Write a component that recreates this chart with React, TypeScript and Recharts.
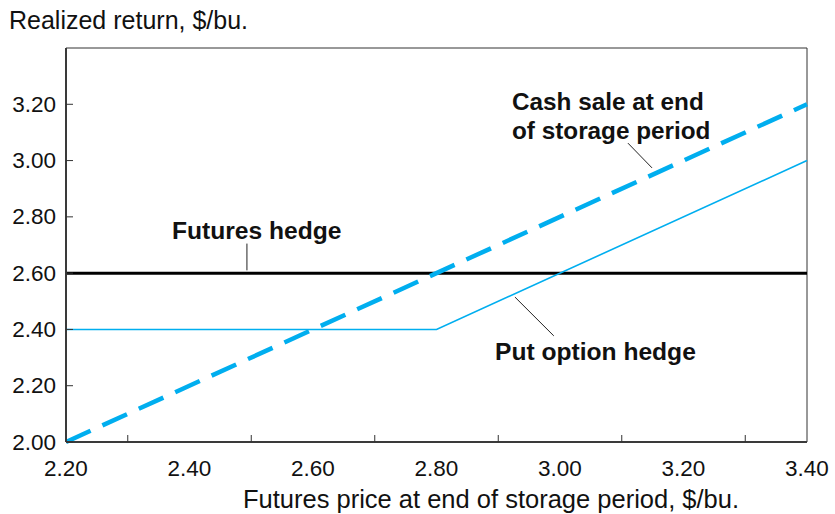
import { LineChart, Line, XAxis, YAxis, ReferenceLine } from "recharts";

// futures price at end of storage ($/bu.)
const prices = [2.2, 2.8, 3.4];
// realized return by strategy ($/bu.)
const cashSale = [2.0, 2.6, 3.2];
const futuresHedge = [2.6, 2.6, 2.6];
const putHedge = [2.4, 2.4, 3.0];

const xTicks = [2.2, 2.3, 2.4, 2.5, 2.6, 2.7, 2.8, 2.9, 3.0, 3.1, 3.2, 3.3, 3.4];
const yTicks = [2.0, 2.2, 2.4, 2.6, 2.8, 3.0, 3.2];

const data = prices.map((p, i) => ({
  price: p,
  cash: cashSale[i],
  futures: futuresHedge[i],
  put: putHedge[i],
}));

const BLUE = "#00aeef";
const FONT = "'Liberation Sans', Arial, sans-serif";

// labels at even tenths, short inward tick marks at odd tenths
const XTick = (props: any) => {
  const { x, y, payload } = props;
  const major = Math.round(payload.value * 10) % 2 === 0;
  if (!major) {
    return <line x1={x} x2={x} y1={y} y2={y - 7} stroke="#333" strokeWidth={1} />;
  }
  return (
    <text x={x} y={y + 26} textAnchor="middle" dominantBaseline="central" fontSize={22.5} fontFamily={FONT} fill="#111">
      {payload.value.toFixed(2)}
    </text>
  );
};

const YTick = (props: any) => {
  const { x, y, payload } = props;
  return (
    <g>
      <line x1={x} x2={x + 7} y1={y} y2={y} stroke="#333" strokeWidth={1} />
      <text x={x - 10} y={y} textAnchor="end" dominantBaseline="central" fontSize={22.5} fontFamily={FONT} fill="#111">
        {payload.value.toFixed(2)}
      </text>
    </g>
  );
};

function Txt({ x, y, size, bold, children, center }: any) {
  return (
    <div
      style={{
        position: "absolute",
        left: x,
        top: y,
        transform: center ? "translate(-50%, -50%)" : "translateY(-50%)",
        fontSize: size,
        lineHeight: 1,
        fontWeight: bold ? "bold" : "normal",
        fontFamily: FONT,
        color: "#111",
        whiteSpace: "nowrap",
      }}
    >
      {children}
    </div>
  );
}

export default function App() {
  return (
    <div style={{ position: "absolute", left: 0, top: 0, width: 835, height: 514, background: "#fff" }}>
      <LineChart width={835} height={514} data={data} margin={{ top: 48, right: 28, bottom: 42, left: 16 }}>
        <XAxis
          dataKey="price"
          type="number"
          domain={[2.2, 3.4]}
          ticks={xTicks}
          interval={0}
          tickSize={0}
          tickMargin={0}
          tickLine={false}
          height={30}
          axisLine={{ stroke: "#3a3a3a", strokeWidth: 2 }}
          tick={<XTick />}
        />
        <YAxis
          type="number"
          domain={[2.0, 3.4]}
          ticks={yTicks}
          interval={0}
          tickSize={0}
          tickMargin={0}
          tickLine={false}
          width={50}
          axisLine={{ stroke: "#3a3a3a", strokeWidth: 2 }}
          tick={<YTick />}
        />
        {/* plot frame */}
        <ReferenceLine y={3.4} stroke="#333" strokeWidth={1} ifOverflow="visible" />
        <ReferenceLine x={3.4} stroke="#333" strokeWidth={1} ifOverflow="visible" />
        {/* leader lines */}
        <ReferenceLine segment={[{ x: 2.493, y: 2.61 }, { x: 2.493, y: 2.705 }]} stroke="#222" strokeWidth={1} />
        <ReferenceLine segment={[{ x: 3.11, y: 3.062 }, { x: 3.149, y: 2.974 }]} stroke="#222" strokeWidth={1} />
        <ReferenceLine segment={[{ x: 2.927, y: 2.515 }, { x: 2.99, y: 2.377 }]} stroke="#222" strokeWidth={1} />

        <Line dataKey="futures" type="linear" stroke="#000" strokeWidth={3} dot={false} isAnimationActive={false} />
        <Line dataKey="put" type="linear" stroke={BLUE} strokeWidth={1.6} dot={false} isAnimationActive={false} />
        <Line
          dataKey="cash"
          type="linear"
          stroke={BLUE}
          strokeWidth={4.5}
          strokeDasharray="27 13"
          dot={false}
          isAnimationActive={false}
        />
      </LineChart>

      <Txt x={9} y={20} size={25}>Realized return, $/bu.</Txt>
      <Txt x={491} y={500} size={25.5} center>Futures price at end of storage period, $/bu.</Txt>
      <Txt x={512} y={102} size={24.3} bold>Cash sale at end</Txt>
      <Txt x={512} y={131} size={24.3} bold>of storage period</Txt>
      <Txt x={172} y={231} size={24.6} bold>Futures hedge</Txt>
      <Txt x={495} y={352} size={24.6} bold>Put option hedge</Txt>
    </div>
  );
}
